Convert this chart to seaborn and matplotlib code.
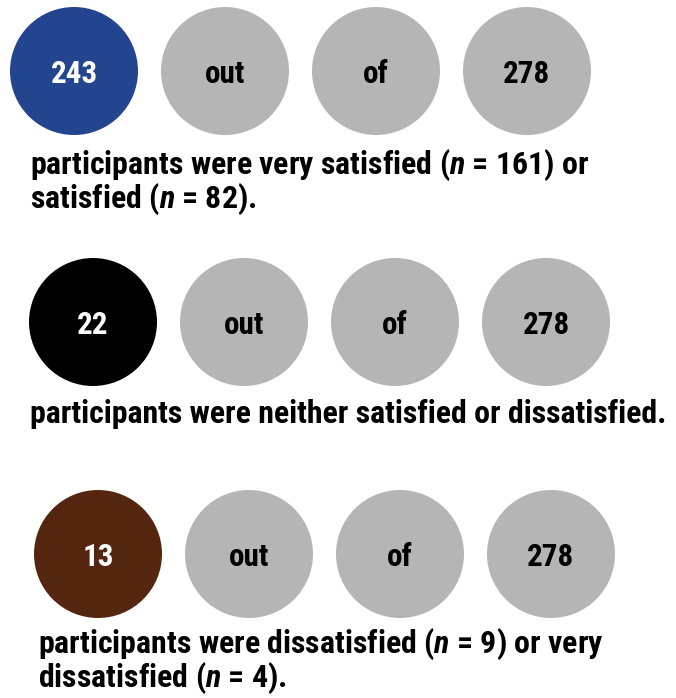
import matplotlib
matplotlib.use("Agg")
import matplotlib.pyplot as plt
from matplotlib import font_manager
import seaborn as sns
import pandas as pd

# data
counts = [243, 22, 13]
total = 278
count_colors = ["#23458F", "#000000", "#55260F"]
captions = [
    "participants were very satisfied ($\\mathit{n}$ = 161) or\nsatisfied ($\\mathit{n}$ = 82).",
    "participants were neither satisfied or dissatisfied.",
    "participants were dissatisfied ($\\mathit{n}$ = 9) or very\ndissatisfied ($\\mathit{n}$ = 4).",
]
gray = "#B5B5B5"

# layout (pixels)
W, H = 676, 698
row_x0 = [74, 93, 98]
row_y = [71, 322, 554]
step = 151
radius = 64
cap_x = [30, 30, 38]
cap_base = [174, 423, 653]   # baseline of first caption line
line_gap = 34
cap_width = 635      # width of the one-line caption in the reference
num_width = 47       # width of "243" in the reference

sns.set_theme(style="white")

# pick a condensed family that has a real bold face
bold_fams = {f.name for f in font_manager.fontManager.ttflist
             if (f.weight if isinstance(f.weight, int) else 400) >= 700}
font = "DejaVu Sans"
for cand in ["Roboto Condensed", "Fira Sans Condensed", "PT Sans Narrow",
             "Barlow Condensed", "IBM Plex Sans Condensed", "Asap Condensed",
             "Encode Sans Condensed", "Oswald"]:
    if cand in bold_fams:
        font = cand
        break

plt.rcParams["font.family"] = [font, "DejaVu Sans"]
plt.rcParams["mathtext.fontset"] = "custom"
plt.rcParams["mathtext.rm"] = font + ":bold"
plt.rcParams["mathtext.it"] = font + ":italic:bold"
plt.rcParams["mathtext.bf"] = font + ":bold"

rows = []
for r, c in enumerate(counts):
    labels = [str(c), "out", "of", str(total)]
    for i, lab in enumerate(labels):
        rows.append({
            "x": row_x0[r] + step * i,
            "y": row_y[r],
            "label": lab,
            "fill": count_colors[r] if i == 0 else gray,
            "tcolor": "white" if i == 0 else "black",
        })
df = pd.DataFrame(rows)

fig = plt.figure(figsize=(W / 100, H / 100), dpi=100)
ax = fig.add_axes([0, 0, 1, 1])

size_pt = (2 * radius * 72 / 100) ** 2
palette = {f: f for f in df["fill"].unique()}
sns.scatterplot(data=df, x="x", y="y", hue="fill", palette=palette,
                s=size_pt, linewidth=0, legend=False, ax=ax)
ax.set_xlim(0, W)
ax.set_ylim(H, 0)
ax.axis("off")

# fit font sizes to the reference widths
renderer = fig.canvas.get_renderer()
probe = ax.text(0, 0, captions[1], fontsize=20, fontweight="bold")
cap_fs = 20 * cap_width / probe.get_window_extent(renderer).width
probe.remove()
probe = ax.text(0, 0, "243", fontsize=20, fontweight="bold")
num_fs = 20 * num_width / probe.get_window_extent(renderer).width
probe.remove()

for _, row in df.iterrows():
    ax.text(row["x"], row["y"], row["label"], ha="center", va="center_baseline",
            fontsize=num_fs, fontweight="bold", color=row["tcolor"])

for r, cap in enumerate(captions):
    for j, line in enumerate(cap.split("\n")):
        ax.text(cap_x[r], cap_base[r] + j * line_gap, line, ha="left",
                va="baseline", fontsize=cap_fs, fontweight="bold", color="black")

fig.savefig("out.png", dpi=100, facecolor="white")
